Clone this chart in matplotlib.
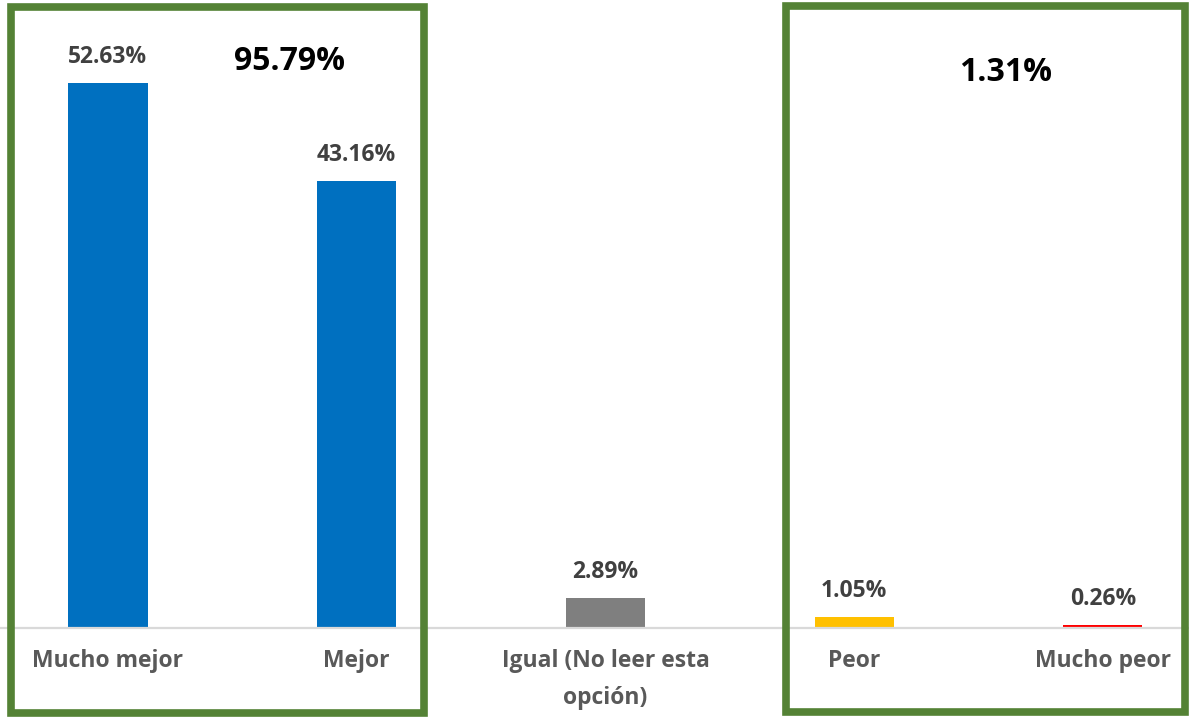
import matplotlib
matplotlib.use("Agg")
import matplotlib.pyplot as plt
from matplotlib.patches import Rectangle

plt.rcParams["font.family"] = ["Open Sans", "DejaVu Sans"]
plt.rcParams["font.weight"] = "bold"

categories = ["Mucho mejor", "Mejor", "Igual (No leer esta\nopción)", "Peor", "Mucho peor"]
values = [52.63, 43.16, 2.89, 1.05, 0.26]
bar_colors = ["#0070C0", "#0070C0", "#7F7F7F", "#FFC000", "#FF0000"]

# groups summed into the big totals
better_idx = [0, 1]
worse_idx = [3, 4]

W, H = 1189, 717
fig = plt.figure(figsize=(W / 100, H / 100), dpi=100)
ax = fig.add_axes([0, (H - 628) / H, 1, 628 / H])

x = list(range(len(categories)))
bars = ax.bar(x, values, width=0.318, color=bar_colors, zorder=2)

for bar, val in zip(bars, values):
    ax.annotate(f"{val:.2f}%", (bar.get_x() + bar.get_width() / 2, bar.get_height()),
                xytext=(0, 26), textcoords="offset pixels", ha="center", va="center",
                fontsize=16.5, fontweight="bold", color="#404040")

ax.set_xlim(-0.434, 4.346)
ax.set_ylim(0, 60.65)
ax.axhline(0, color="#D9D9D9", linewidth=1.6, zorder=3, clip_on=False)

for s in ax.spines.values():
    s.set_visible(False)
ax.set_yticks([])
ax.set_xticks(x)
ax.set_xticklabels(categories, fontsize=16.5, fontweight="bold", color="#595959",
                   linespacing=1.75)
ax.tick_params(axis="x", length=0, pad=15)

# group totals
better = sum(values[i] for i in better_idx)
worse = sum(values[i] for i in worse_idx)
ax.text(0.728, 54.7, f"{better:.2f}%", ha="center", va="center",
        fontsize=23, fontweight="bold", color="black")
ax.text(3.61, 53.6, f"{worse:.2f}%", ha="center", va="center",
        fontsize=23, fontweight="bold", color="black")


def frame(x0, y0, x1, y1):
    # x/y in pixels from the top-left corner
    fig.patches.append(Rectangle((x0 / W, (H - y1) / H), (x1 - x0) / W, (y1 - y0) / H,
                                 transform=fig.transFigure, fill=False,
                                 edgecolor="#548235", linewidth=5.5, zorder=5))


frame(11, 7, 424, 713)
frame(785.5, 6, 1185, 711.5)

fig.savefig("out.png", dpi=100)
